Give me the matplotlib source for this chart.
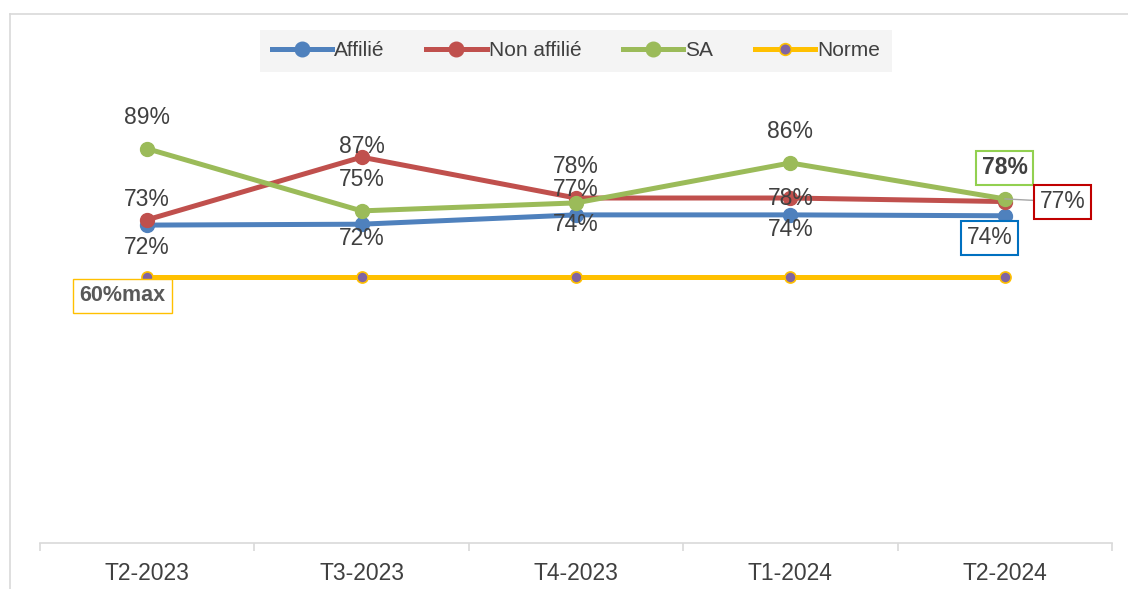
import matplotlib.pyplot as plt
from matplotlib.lines import Line2D

plt.rcParams['font.family'] = ['Liberation Sans', 'DejaVu Sans']

quarters = ["T2-2023", "T3-2023", "T4-2023", "T1-2024", "T2-2024"]
affilie = [0.716, 0.718, 0.739, 0.739, 0.737]
non_affilie = [0.728, 0.869, 0.777, 0.777, 0.769]
sa = [0.888, 0.748, 0.766, 0.856, 0.775]
norme = [0.60, 0.60, 0.60, 0.60, 0.60]

BLUE = "#4f81bd"
RED = "#c0504d"
GREEN = "#9bbb59"
YELLOW = "#ffc000"
PURPLE = "#8064a2"
TXT = "#404040"

W, H = 1128, 589
fig = plt.figure(figsize=(W / 100, H / 100), dpi=100)
ax = fig.add_axes([40 / W, 46 / H, 1072 / W, 444 / H])

x = list(range(len(quarters)))
lw = 3.6
ms = 10
ax.plot(x, affilie, color=BLUE, lw=lw, marker="o", ms=ms, label="Affilié", zorder=3)
ax.plot(x, non_affilie, color=RED, lw=lw, marker="o", ms=ms, label="Non affilié", zorder=4)
ax.plot(x, sa, color=GREEN, lw=lw, marker="o", ms=ms, label="SA", zorder=5)
ax.plot(x, norme, color=YELLOW, lw=lw, marker="o", ms=8, mfc=PURPLE, mec=YELLOW,
        mew=1.2, label="Norme", zorder=2)

ax.set_xlim(-0.5, len(quarters) - 0.5)
ax.set_ylim(0, 1)

# data labels, offsets in pixels (dx, dy) measured from the points
px = 72 / 100
fs = 16.5


def lab(xi, yi, dx, dy, **kw):
    ax.annotate(f"{round(yi * 100):.0f}%", (xi, yi), xytext=(dx * px, dy * px),
                textcoords="offset points", ha="center", va="center",
                fontsize=fs, color=TXT, zorder=10, **kw)


aff_off = [(0, -22), (0, -14), (0, -10), (0, -15)]
red_off = [(0, 20), (0, 11), (0, 32), (0, 0)]
sa_off = [(0, 31), (0, 31), (0, 13), (0, 31)]
for i in range(4):
    lab(x[i], affilie[i], *aff_off[i])
    lab(x[i], non_affilie[i], *red_off[i])
    lab(x[i], sa[i], *sa_off[i])

# boxed labels at the last point
last = len(quarters) - 1
lab(last, sa[last], 0, 31, fontweight="bold",
    bbox=dict(boxstyle="square,pad=0.25", fc="white", ec="#92d050", lw=1.5))
ax.annotate(f"{round(non_affilie[last] * 100):.0f}%", (last, sa[last]),
            xytext=(58 * px, -3 * px), textcoords="offset points",
            ha="center", va="center", fontsize=fs, color=TXT, zorder=10,
            bbox=dict(boxstyle="square,pad=0.25", fc="white", ec="#c00000", lw=1.5),
            arrowprops=dict(arrowstyle="-", color="#a6a6a6", lw=1, shrinkA=0, shrinkB=0))
lab(last, affilie[last], -15, -22,
    bbox=dict(boxstyle="square,pad=0.25", fc="white", ec="#0070c0", lw=1.5))
ax.annotate(f"{round(norme[0] * 100):.0f}%max", (0, norme[0]),
            xytext=(-25 * px, -19 * px), textcoords="offset points",
            ha="center", va="center", fontsize=fs - 1, color="#595959",
            fontweight="bold", zorder=10,
            bbox=dict(boxstyle="square,pad=0.3", fc="white", ec=YELLOW, lw=1))

# axes styling
for s in ["left", "right", "top"]:
    ax.spines[s].set_visible(False)
ax.spines["bottom"].set_color("#d9d9d9")
ax.spines["bottom"].set_linewidth(1.2)
ax.set_yticks([])
ax.set_xticks(x)
ax.set_xticklabels(quarters, fontsize=16.5, color=TXT)
ax.tick_params(axis="x", which="major", length=0, pad=14)
ax.set_xticks([i - 0.5 for i in range(len(quarters) + 1)], minor=True)
ax.tick_params(axis="x", which="minor", length=6, color="#d9d9d9", width=1.2)

leg = fig.legend(loc="center", bbox_to_anchor=(576 / W, 1 - 51 / H), ncol=4,
                 fontsize=15, frameon=True, fancybox=False, handlelength=2.9,
                 columnspacing=2.0, handletextpad=0.1, borderpad=0.55,
                 borderaxespad=0, labelcolor=TXT, markerscale=1.05)
leg.get_frame().set_facecolor("#f2f2f2")
leg.get_frame().set_edgecolor("none")

# outer chart border
fig.add_artist(Line2D([10 / W, 10 / W], [0, 1 - 14 / H], color="#d9d9d9", lw=1.2))
fig.add_artist(Line2D([10 / W, 1], [1 - 14 / H, 1 - 14 / H], color="#d9d9d9", lw=1.2))

fig.savefig("out.png", dpi=100)
